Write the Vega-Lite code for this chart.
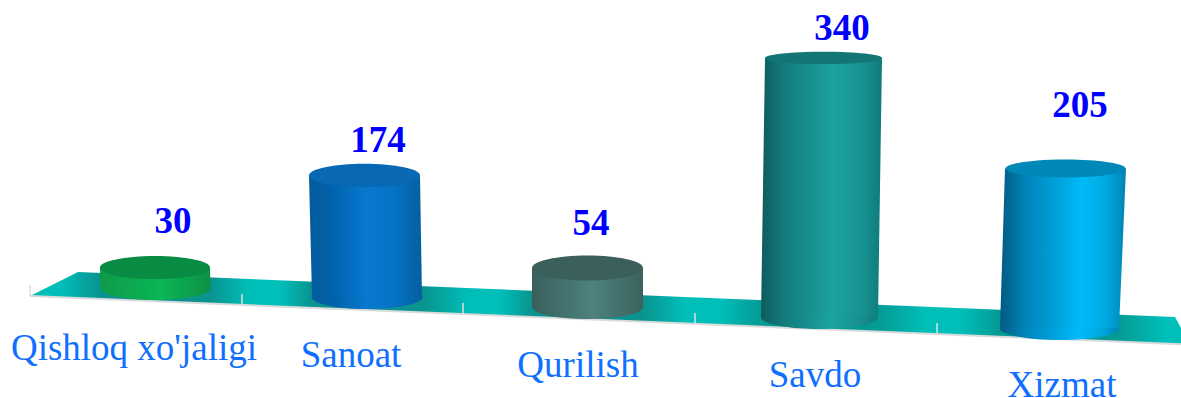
{
"$schema":"https://vega.github.io/schema/vega-lite/v6.json",
"width":1181,"height":398,"padding":0,"autosize":{"type":"none"},
"background":"#ffffff",
"config":{"view":{"stroke":null}},
"datasets":{
"cyl":[
{"category":"Qishloq xo'jaligi","value":30,"topX":155,"baseX":155.5,"topY":267.5,"baseY":288,"valueX":173,"valueY":233,"labelX":134,"labelY":360},
{"category":"Sanoat","value":174,"topX":364.5,"baseX":367,"topY":175.5,"baseY":297,"valueX":378,"valueY":152,"labelX":351,"labelY":367},
{"category":"Qurilish","value":54,"topX":587.5,"baseX":587.5,"topY":268,"baseY":307,"valueX":591,"valueY":235,"labelX":578,"labelY":377},
{"category":"Savdo","value":340,"topX":823.5,"baseX":819.5,"topY":58,"baseY":317,"valueX":842,"valueY":40,"labelX":815,"labelY":387},
{"category":"Xizmat","value":205,"topX":1065.5,"baseX":1059.5,"topY":168.5,"baseY":328,"valueX":1080,"valueY":117,"labelX":1062,"labelY":397}
],
"walls":[
{"category":"Qishloq xo'jaligi","wy":267.5,"left":100,"right":210},
{"category":"Qishloq xo'jaligi","wy":288,"left":100.5,"right":210.5},
{"category":"Sanoat","wy":175.5,"left":309,"right":420},
{"category":"Sanoat","wy":297,"left":312,"right":422},
{"category":"Qurilish","wy":268,"left":532,"right":643},
{"category":"Qurilish","wy":307,"left":532,"right":643},
{"category":"Savdo","wy":58,"left":765,"right":882},
{"category":"Savdo","wy":317,"left":761,"right":878},
{"category":"Xizmat","wy":168.5,"left":1005,"right":1126},
{"category":"Xizmat","wy":328,"left":1000,"right":1119}
],
"floor":[
{"fx":30,"back":296,"front":296},
{"fx":78,"back":272,"front":298},
{"fx":1175,"back":317,"front":344},
{"fx":1181,"back":328,"front":344.3}
],
"ticks":[{"tx":30,"up":285,"down":296},{"tx":242,"up":294,"down":305},{"tx":463,"up":303,"down":314},{"tx":695,"up":313,"down":323.7},{"tx":937,"up":323,"down":333.8}]
},
"resolve":{"scale":{"shape":"independent"}},
"layer":[
{"data":{"name":"floor"},"mark":{"type":"area","fill":{"gradient":"linear","x1":0,"x2":1,"y1":0,"y2":0,"stops":[
{"offset":0,"color":"#00bfb9"},{"offset":0.026,"color":"#00bfb9"},{"offset":0.061,"color":"#0a938f"},{"offset":0.156,"color":"#0a938f"},{"offset":0.191,"color":"#00bfb9"},{"offset":0.217,"color":"#00bfb9"},{"offset":0.245,"color":"#0a938f"},{"offset":0.341,"color":"#0a938f"},{"offset":0.382,"color":"#00bfb9"},{"offset":0.408,"color":"#00bfb9"},{"offset":0.436,"color":"#0a938f"},{"offset":0.533,"color":"#0a938f"},{"offset":0.569,"color":"#00bfb9"},{"offset":0.599,"color":"#00bfb9"},{"offset":0.635,"color":"#049a94"},{"offset":0.737,"color":"#049a94"},{"offset":0.778,"color":"#00bfb9"},{"offset":0.808,"color":"#00bfb9"},{"offset":0.842,"color":"#049a94"},{"offset":0.946,"color":"#049a94"},{"offset":0.986,"color":"#00bfb9"},{"offset":1,"color":"#00bfb9"}]}},
"encoding":{"x":{"field":"fx","type":"quantitative","scale":{"domain":[0,1181],"nice":false,"zero":false},"axis":null},"y":{"field":"back","type":"quantitative","scale":{"domain":[398,0],"nice":false,"zero":false},"axis":null},"y2":{"field":"front"}}},
{"data":{"name":"floor"},"mark":{"type":"line","color":"#d8dcdc","strokeWidth":2},
"encoding":{"x":{"field":"fx","type":"quantitative","axis":null},"y":{"field":"front","type":"quantitative","axis":null}}},
{"data":{"name":"ticks"},"mark":{"type":"rule","color":"#d8e2e2","strokeWidth":1.5},
"encoding":{"x":{"field":"tx","type":"quantitative","axis":null},"y":{"field":"up","type":"quantitative","axis":null},"y2":{"field":"down"}}},
{"data":{"name":"cyl"},"mark":{"type":"point","filled":true,"opacity":1,"strokeWidth":0},
"encoding":{"x":{"field":"baseX","type":"quantitative","axis":null},"y":{"field":"baseY","type":"quantitative","axis":null},
"shape":{"field":"category","type":"nominal","legend":null,"scale":{"domain":["Qishloq xo'jaligi","Sanoat","Qurilish","Savdo","Xizmat"],"range":[
"M-1,0C-1,-0.1204,-0.5523,-0.218,0,-0.218C0.5523,-0.218,1,-0.1204,1,0C1,0.1204,0.5523,0.218,0,0.218C-0.5523,0.218,-1,0.1204,-1,0Z",
"M-1,0C-1,-0.1193,-0.5523,-0.216,0,-0.216C0.5523,-0.216,1,-0.1193,1,0C1,0.1193,0.5523,0.216,0,0.216C-0.5523,0.216,-1,0.1193,-1,0Z",
"M-1,0C-1,-0.1193,-0.5523,-0.216,0,-0.216C0.5523,-0.216,1,-0.1193,1,0C1,0.1193,0.5523,0.216,0,0.216C-0.5523,0.216,-1,0.1193,-1,0Z",
"M-1,0C-1,-0.1132,-0.5523,-0.205,0,-0.205C0.5523,-0.205,1,-0.1132,1,0C1,0.1132,0.5523,0.205,0,0.205C-0.5523,0.205,-1,0.1132,-1,0Z",
"M-1,0C-1,-0.1105,-0.5523,-0.2,0,-0.2C0.5523,-0.2,1,-0.1105,1,0C1,0.1105,0.5523,0.2,0,0.2C-0.5523,0.2,-1,0.1105,-1,0Z"]}},
"size":{"field":"category","type":"nominal","legend":null,"scale":{"type":"ordinal","domain":["Qishloq xo'jaligi","Sanoat","Qurilish","Savdo","Xizmat"],"range":[12100,12321,12321,13689,14400]}},
"fill":{"condition":[
{"test":"datum.category==='Qishloq xo\\'jaligi'","value":{"gradient":"linear","x1":0,"x2":1,"y1":0,"y2":0,"stops":[{"offset":0,"color":"#0e9a48"},{"offset":0.55,"color":"#0bb657"},{"offset":1,"color":"#0d9045"}]}},
{"test":"datum.category==='Sanoat'","value":{"gradient":"linear","x1":0,"x2":1,"y1":0,"y2":0,"stops":[{"offset":0,"color":"#055a9c"},{"offset":0.2,"color":"#0062ab"},{"offset":0.5,"color":"#0878cf"},{"offset":0.75,"color":"#0572c4"},{"offset":1,"color":"#04609f"}]}},
{"test":"datum.category==='Qurilish'","value":{"gradient":"linear","x1":0,"x2":1,"y1":0,"y2":0,"stops":[{"offset":0,"color":"#395f5c"},{"offset":0.55,"color":"#4d827d"},{"offset":1,"color":"#3b625e"}]}},
{"test":"datum.category==='Savdo'","value":{"gradient":"linear","x1":0,"x2":1,"y1":0,"y2":0,"stops":[{"offset":0,"color":"#105b5c"},{"offset":0.2,"color":"#127c7d"},{"offset":0.6,"color":"#1ba3a1"},{"offset":0.85,"color":"#16908f"},{"offset":1,"color":"#0f7a7a"}]}}
],"value":{"gradient":"linear","x1":0,"x2":1,"y1":0,"y2":0,"stops":[{"offset":0,"color":"#045a80"},{"offset":0.2,"color":"#0083b8"},{"offset":0.65,"color":"#00baf8"},{"offset":0.85,"color":"#00a8df"},{"offset":1,"color":"#0082b2"}]}}}},
{"data":{"name":"walls"},"mark":{"type":"area","orient":"horizontal"},
"encoding":{"y":{"field":"wy","type":"quantitative","axis":null},"x":{"field":"left","type":"quantitative","axis":null},"x2":{"field":"right"},"detail":{"field":"category","type":"nominal"},
"fill":{"condition":[
{"test":"datum.category==='Qishloq xo\\'jaligi'","value":{"gradient":"linear","x1":0,"x2":1,"y1":0,"y2":0,"stops":[{"offset":0,"color":"#0e9a48"},{"offset":0.55,"color":"#0bb657"},{"offset":1,"color":"#0d9045"}]}},
{"test":"datum.category==='Sanoat'","value":{"gradient":"linear","x1":0,"x2":1,"y1":0,"y2":0,"stops":[{"offset":0,"color":"#055a9c"},{"offset":0.2,"color":"#0062ab"},{"offset":0.5,"color":"#0878cf"},{"offset":0.75,"color":"#0572c4"},{"offset":1,"color":"#04609f"}]}},
{"test":"datum.category==='Qurilish'","value":{"gradient":"linear","x1":0,"x2":1,"y1":0,"y2":0,"stops":[{"offset":0,"color":"#395f5c"},{"offset":0.55,"color":"#4d827d"},{"offset":1,"color":"#3b625e"}]}},
{"test":"datum.category==='Savdo'","value":{"gradient":"linear","x1":0,"x2":1,"y1":0,"y2":0,"stops":[{"offset":0,"color":"#105b5c"},{"offset":0.2,"color":"#127c7d"},{"offset":0.6,"color":"#1ba3a1"},{"offset":0.85,"color":"#16908f"},{"offset":1,"color":"#0f7a7a"}]}}
],"value":{"gradient":"linear","x1":0,"x2":1,"y1":0,"y2":0,"stops":[{"offset":0,"color":"#045a80"},{"offset":0.2,"color":"#0083b8"},{"offset":0.65,"color":"#00baf8"},{"offset":0.85,"color":"#00a8df"},{"offset":1,"color":"#0082b2"}]}}}},
{"data":{"name":"cyl"},"mark":{"type":"point","filled":true,"opacity":1,"strokeWidth":0},
"encoding":{"x":{"field":"topX","type":"quantitative","axis":null},"y":{"field":"topY","type":"quantitative","axis":null},
"shape":{"field":"category","type":"nominal","legend":null,"scale":{"domain":["Qishloq xo'jaligi","Sanoat","Qurilish","Savdo","Xizmat"],"range":[
"M-1,0C-1,-0.116,-0.5523,-0.21,0,-0.21C0.5523,-0.21,1,-0.116,1,0C1,0.116,0.5523,0.21,0,0.21C-0.5523,0.21,-1,0.116,-1,0Z",
"M-1,0C-1,-0.116,-0.5523,-0.21,0,-0.21C0.5523,-0.21,1,-0.116,1,0C1,0.116,0.5523,0.21,0,0.21C-0.5523,0.21,-1,0.116,-1,0Z",
"M-1,0C-1,-0.1243,-0.5523,-0.225,0,-0.225C0.5523,-0.225,1,-0.1243,1,0C1,0.1243,0.5523,0.225,0,0.225C-0.5523,0.225,-1,0.1243,-1,0Z",
"M-1,0C-1,-0.058,-0.5523,-0.105,0,-0.105C0.5523,-0.105,1,-0.058,1,0C1,0.058,0.5523,0.105,0,0.105C-0.5523,0.105,-1,0.058,-1,0Z",
"M-1,0C-1,-0.0828,-0.5523,-0.15,0,-0.15C0.5523,-0.15,1,-0.0828,1,0C1,0.0828,0.5523,0.15,0,0.15C-0.5523,0.15,-1,0.0828,-1,0Z"]}},
"size":{"field":"category","type":"nominal","legend":null,"scale":{"type":"ordinal","domain":["Qishloq xo'jaligi","Sanoat","Qurilish","Savdo","Xizmat"],"range":[12100,12321,12321,13689,14400]}},
"fill":{"field":"category","type":"nominal","legend":null,"scale":{"domain":["Qishloq xo'jaligi","Sanoat","Qurilish","Savdo","Xizmat"],"range":["#088b42","#0868b4","#3b5f5a","#137574","#0088b8"]}}}},
{"data":{"name":"cyl"},"mark":{"type":"text","font":"Liberation Serif","fontSize":37,"fontWeight":"bold","color":"#0000ff","align":"center","baseline":"alphabetic"},
"encoding":{"x":{"field":"valueX","type":"quantitative","axis":null},"y":{"field":"valueY","type":"quantitative","axis":null},"text":{"field":"value","type":"quantitative"}}},
{"data":{"name":"cyl"},"mark":{"type":"text","font":"Liberation Serif","fontSize":37,"color":"#0f6fff","align":"center","baseline":"alphabetic"},
"encoding":{"x":{"field":"labelX","type":"quantitative","axis":null},"y":{"field":"labelY","type":"quantitative","axis":null},"text":{"field":"category","type":"nominal"}}}
]
}
